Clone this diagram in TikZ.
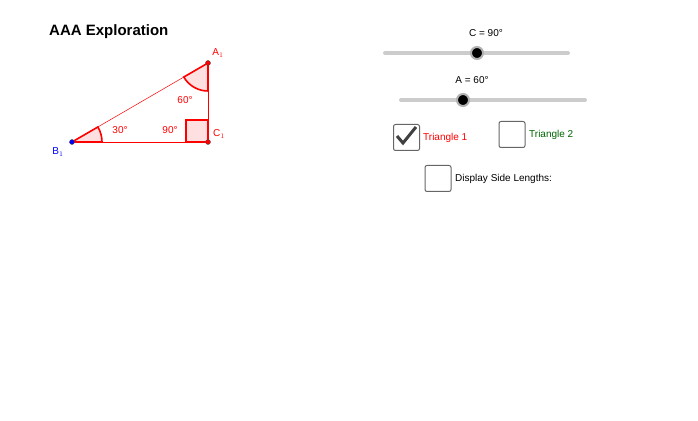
\documentclass[tikz,border=0pt]{standalone}
\usepackage{fontspec}
\setmainfont{Liberation Sans}
\definecolor{gred}{RGB}{255,0,0}
\definecolor{ggreen}{RGB}{0,100,0}
\definecolor{gblue}{RGB}{0,0,255}
\begin{document}
\begin{tikzpicture}[x=1pt,y=1pt,
  lbl/.style={font=\fontsize{10}{12}\selectfont,inner sep=0pt},
  pt/.style={circle,draw=black!70,line width=0.4pt,inner sep=0pt,minimum size=5pt},
  box/.style={draw=black!60,line width=1pt,rounded corners=2pt,minimum size=26pt,inner sep=0pt},
  slider/.style={line width=4pt,black!20,line cap=round},
  knob/.style={circle,fill=black,draw=black!30,line width=2pt,inner sep=0pt,minimum size=12pt}]
\useasboundingbox (0,0) rectangle (698,420);
\node[anchor=west,font=\fontsize{15}{18}\selectfont\bfseries,inner sep=0pt] (title) at (49,388) {AAA Exploration};
\coordinate (B) at (72,278); \coordinate (C) at (208,278); \coordinate (A) at (208,357);
% angle fills
\fill[gred!12] (B) -- ++(30,0) arc (0:30.1:30) -- cycle;
\fill[gred!12] (A) -- ++(210.1:28) arc (210.1:270:28) -- cycle;
\fill[gred!12] (186,278) rectangle (208,300);
\draw[gred,line width=0.5pt] (B) -- (A);
\draw[gred,line width=0.5pt] (B) -- (C) -- (A);
\draw[gred,line width=1.6pt] (B) -- ++(30,0) arc (0:30.1:30) -- cycle;
\draw[gred,line width=1.6pt] (A) -- ++(210.1:28) arc (210.1:270:28) -- cycle;
\draw[gred,line width=1.6pt] (186,278) rectangle (208,300) (208,278)--(208,300);
\node[pt,fill=gblue] (b1) at (B) {};
\node[pt,fill=gred] (c1) at (C) {};
\node[pt,fill=gred] (a1) at (A) {};
\node[lbl,text=gblue] at (58,268) {B$_1$};
\node[lbl,text=gred] at (219,286) {C$_1$};
\node[lbl,text=gred] at (218,367) {A$_1$};
\node[lbl,text=gred] at (120,290) {30°};
\node[lbl,text=gred] at (170,290) {90°};
\node[lbl,text=gred] at (185,320) {60°};
% sliders
\node[lbl,text=black] (cl) at (486,387) {C = 90°};
\draw[slider] (385,367) -- (568,367);
\node[knob] (ck) at (477,367) {};
\node[lbl,text=black] (al) at (472,340) {A = 60°};
\draw[slider] (401,320) -- (585,320);
\node[knob] (ak) at (463,320) {};
% checkboxes
\node[box] (t1) at (406.5,282.5) {};
\draw[black!75,line width=3pt] (397,284) -- (403,277) -- (416,293);
\node[lbl,anchor=west,text=gred] (t1l) at (423,282) {Triangle 1};
\node[box] (t2) at (512,285.5) {};
\node[lbl,anchor=west,text=ggreen] (t2l) at (529,285) {Triangle 2};
\node[box] (d) at (438,241.5) {};
\node[lbl,anchor=west,text=black] (dl) at (455,241) {Display Side Lengths:};
\end{tikzpicture}
\end{document}
